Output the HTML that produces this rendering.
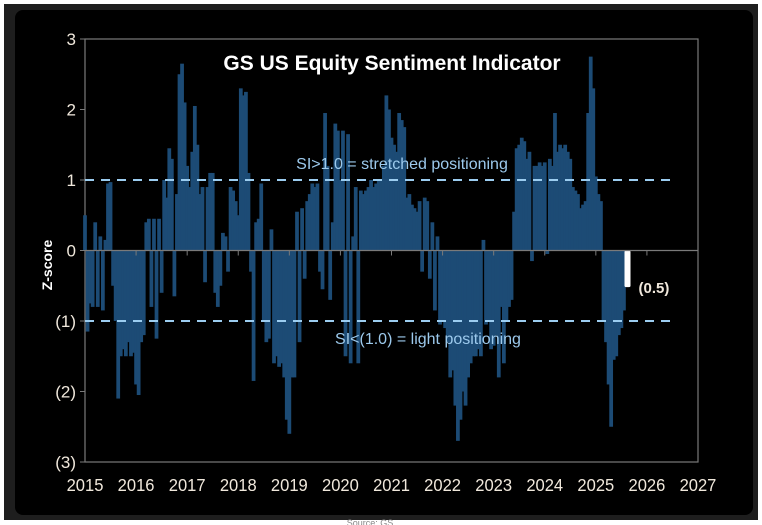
<!DOCTYPE html>
<html><head><meta charset="utf-8">
<style>
html,body{margin:0;padding:0;background:#fff;}
#wrap{position:relative;width:762px;height:525px;overflow:hidden;background:#fff;}
svg{position:absolute;left:0;top:0;}
</style></head>
<body>
<div id="wrap">
<svg id="chart" width="762" height="525" viewBox="0 0 762 525">
  <rect x="4" y="4" width="754" height="516" fill="#1e1e1e"/>
  <rect x="15" y="10" width="738" height="505" rx="8" fill="#000"/>
  <rect x="85" y="39" width="613" height="423" fill="none" stroke="#7a7a7a" stroke-width="1.2"/>
  <g id="bars"></g>
  <g id="axes"></g>
  <text x="392" y="70" text-anchor="middle" fill="#fff" font-family="Liberation Sans, sans-serif" font-weight="bold" font-size="21">GS US Equity  Sentiment Indicator</text>
  <text x="52" y="265" text-anchor="middle" fill="#fff" font-family="Liberation Sans, sans-serif" font-weight="bold" font-size="14" transform="rotate(-90 52 265)">Z-score</text>
  <text x="402" y="169" text-anchor="middle" fill="#9cc9ec" font-family="Liberation Sans, sans-serif" font-size="16">SI&gt;1.0 = stretched positioning</text>
  <text x="428" y="344" text-anchor="middle" fill="#9cc9ec" font-family="Liberation Sans, sans-serif" font-size="16">SI&lt;(1.0) = light positioning</text>
  <text x="370" y="526" text-anchor="middle" fill="#888" font-family="Liberation Sans, sans-serif" font-size="9">Source: GS</text>
</svg>
</div>
<script>
const yTicks = [3, 2, 1, 0, -1, -2, -3];
const yTickLabels = ["3", "2", "1", "0", "(1)", "(2)", "(3)"];
const xTicks = [2015,2016,2017,2018,2019,2020,2021,2022,2023,2024,2025,2026,2027];
const thresholds = [1, -1];
const startYear = 2015;
const step = 0.05;
const values = [
0.5,-1.15,-0.75,-0.8,0.4,-0.8,0.2,-0.85,0.15,0.95,
0.97,-0.5,-1.0,-2.1,-1.5,-1.4,-1.5,-1.3,-1.5,-1.45,
-1.9,-2.05,-1.3,-1.2,0.4,0.45,-0.8,0.45,-1.25,0.45,
-0.6,1.0,0.75,1.45,1.3,-0.65,0.8,2.5,2.65,2.1,
1.2,0.9,1.4,2.05,1.5,0.8,0.9,-0.45,0.9,1.1,
1.1,-0.6,-0.8,-0.5,0.25,0.2,-0.3,0.9,0.85,0.7,
0.5,2.3,2.2,2.25,1.1,-0.3,-1.85,0.4,0.45,0.95,
-1.0,-1.3,-1.25,0.3,-1.6,-1.5,-1.65,-1.6,-1.8,-2.4,
-2.6,-1.8,-1.8,0.55,-1.3,0.6,-0.4,0.7,0.8,0.95,
0.9,0.95,-0.3,-0.55,1.95,1.2,-0.7,0.4,1.8,1.7,
1.0,1.7,-1.5,1.65,-1.6,0.2,0.9,-1.6,0.85,0.8,
0.85,0.9,1.0,0.9,0.95,1.0,1.0,1.2,2.2,2.0,
1.6,1.5,1.4,1.95,1.85,1.75,0.75,0.8,0.65,0.6,
0.55,0.7,-0.3,0.75,0.7,-0.4,0.4,-0.85,0.2,-1.05,
-1.0,-1.1,-1.3,-1.8,-1.7,-2.2,-2.7,-2.4,-2.0,-2.2,
-1.8,-1.6,-1.5,-1.5,-1.4,-1.5,0.15,-1.05,-1.0,-1.4,
-1.35,-1.2,-1.8,-0.8,-1.6,-1.0,-0.8,-0.7,0.55,1.45,
1.5,1.6,1.55,1.3,1.4,-0.15,1.2,1.2,1.25,1.2,
1.25,-0.05,1.3,1.2,1.95,1.4,1.5,1.45,1.5,1.4,
1.3,0.9,0.85,0.8,0.6,0.65,0.7,1.95,2.75,2.3,
1.05,0.8,0.7,-1.0,-1.3,-1.9,-2.5,-1.55,-1.5,-1.2,
-1.1,-0.85
];
const latestDate = [2025.62];
const latestValue = [-0.52];
const latestLabel = ["(0.5)"];

const NS = "http://www.w3.org/2000/svg";
const X0 = 85, X1 = 698, Y0 = 39, Y1 = 462;
function xScale(t){ return X0 + (t - 2015) / 12 * (X1 - X0); }
function yScale(v){ return Y1 - (v + 3) / 6 * (Y1 - Y0); }
function mk(tag, attrs){ const e = document.createElementNS(NS, tag); for (const k in attrs) e.setAttribute(k, attrs[k]); return e; }

const barsG = document.getElementById('bars');
const axesG = document.getElementById('axes');
const bw = (xScale(step) - xScale(0)) + 1.2;
values.forEach((v, i) => {
  const t = startYear + i * step;
  const x = xScale(t);
  const y0 = yScale(0), y = yScale(v);
  const r = mk('rect', {x: (x - bw/2).toFixed(2), y: Math.min(y, y0).toFixed(2), width: bw.toFixed(2), height: Math.abs(y - y0).toFixed(2), fill: '#1c4b75'});
  
  
  barsG.appendChild(r);
});
latestValue.forEach((v, i) => {
  const x = xScale(latestDate[i]);
  const r = mk('rect', {x: (x - 3).toFixed(2), y: yScale(0), width: 6, height: (yScale(v) - yScale(0)).toFixed(2), rx: 1.5, fill: '#fff'});
  
  
  barsG.appendChild(r);
  const tx = mk('text', {x: x + 11, y: yScale(v) + 6, fill: '#f0e8dc', 'font-family': 'Liberation Sans, sans-serif', 'font-weight': 'bold', 'font-size': 15});
  tx.textContent = latestLabel[i];
  
  
  axesG.appendChild(tx);
});
const zl = mk('line', {x1: X0, x2: X1, y1: yScale(0), y2: yScale(0), stroke: '#7a7a7a', 'stroke-width': 1.2});


axesG.appendChild(zl);
thresholds.forEach(v => {
  const l = mk('line', {x1: X0, x2: 673, y1: yScale(v), y2: yScale(v), stroke: '#9ccdf0', 'stroke-width': 2, 'stroke-dasharray': '9,7'});
  
  
  axesG.appendChild(l);
});
yTicks.forEach((v, i) => {
  const y = yScale(v);
  const tk = mk('line', {x1: X0 - 5, x2: X0, y1: y, y2: y, stroke: '#7a7a7a', 'stroke-width': 1});
  
  
  axesG.appendChild(tk);
  const tx = mk('text', {x: 76, y: y + 6, 'text-anchor': 'end', fill: '#f0e8dc', 'font-family': 'Liberation Sans, sans-serif', 'font-size': 17});
  tx.textContent = yTickLabels[i];
  
  
  axesG.appendChild(tx);
});
xTicks.forEach(yr => {
  const x = xScale(yr);
  const tk = mk('line', {x1: x, x2: x, y1: yScale(0), y2: yScale(0) + 5, stroke: '#7a7a7a', 'stroke-width': 1});
  
  
  axesG.appendChild(tk);
  const tx = mk('text', {x: x, y: 491, 'text-anchor': 'middle', fill: '#f0e8dc', 'font-family': 'Liberation Sans, sans-serif', 'font-size': 18, transform: 'translate(' + x + ' 0) scale(0.92 1) translate(' + (-x) + ' 0)'});
  tx.textContent = String(yr);
  
  
  axesG.appendChild(tx);
});
</script>
</body></html>
